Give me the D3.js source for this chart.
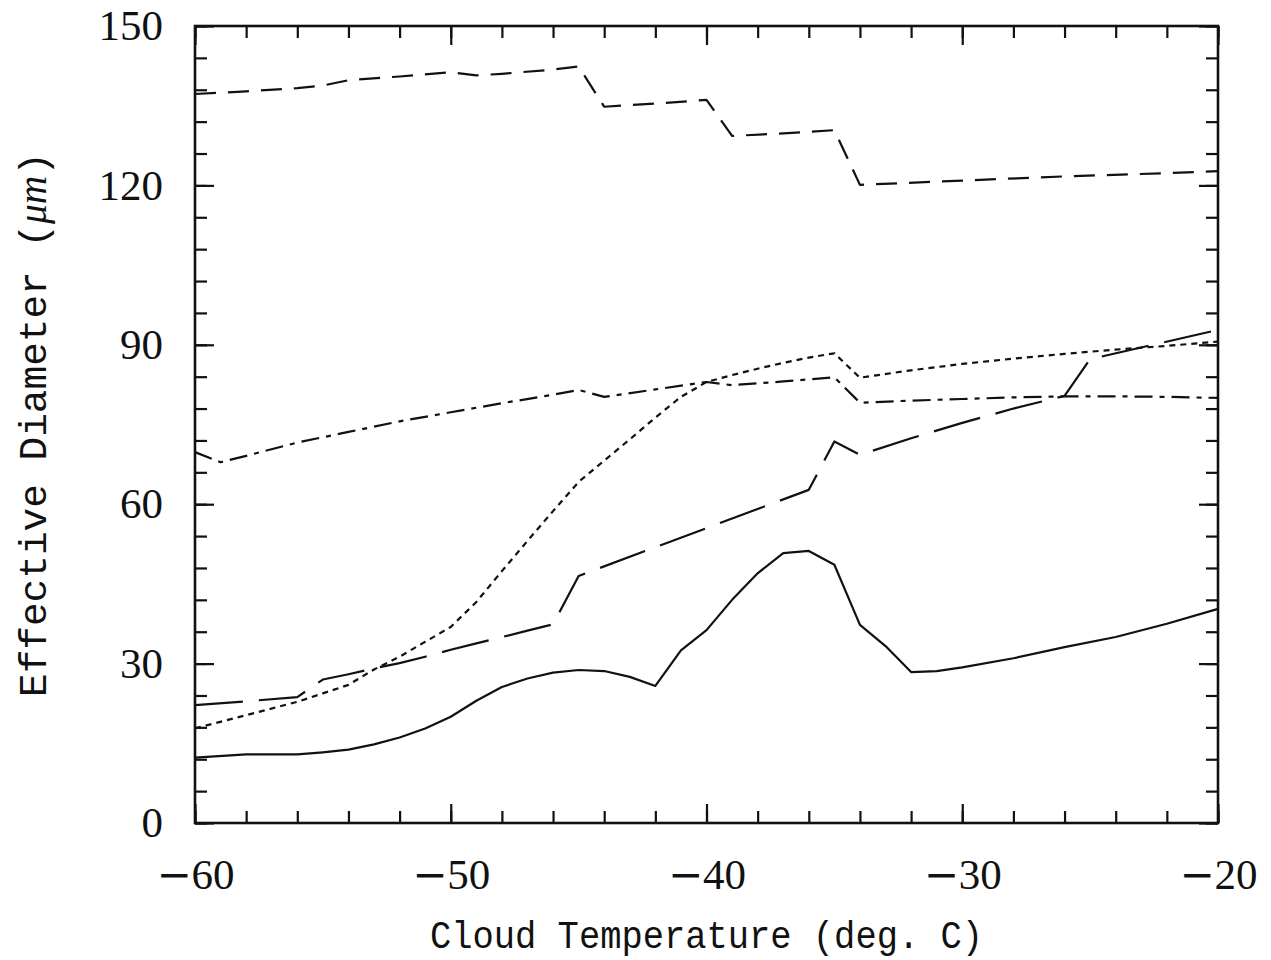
<!DOCTYPE html>
<html>
<head>
<meta charset="utf-8">
<script src="https://cdn.jsdelivr.net/npm/d3@7"></script>
<style>
  html, body { margin: 0; padding: 0; background: #fff; }
  svg { display: block; }
</style>
</head>
<body>
<svg id="chart" width="1271" height="960"></svg>
<script>
// Effective ice-crystal diameter versus cloud temperature, five size-distribution schemes

const solidT = [-60,-58,-56,-55,-54,-53,-52,-51,-50,-49,-48,-47,-46,-45,-44,-43,-42,-41,-40,-39,-38,-37,-36,-35,-34,-33,-32,-31,-30,-28,-26,-24,-22,-20];
const solidD = [12.3,12.9,12.9,13.3,13.8,14.8,16.1,17.8,20.0,23.0,25.6,27.2,28.3,28.8,28.6,27.5,25.8,32.5,36.3,42.0,47.0,50.8,51.2,48.6,37.3,33.3,28.4,28.6,29.3,31.0,33.1,35.0,37.5,40.3];

const longDashT = [-60,-58,-56,-55,-54,-53,-52,-51,-50,-49,-48,-47,-46,-45,-36,-35,-34,-32,-30,-28,-26,-25,-20];
const longDashD = [22.2,22.9,23.7,27.0,28.0,29.1,30.1,31.3,32.6,33.8,35.0,36.2,37.4,46.5,62.7,71.8,69.3,72.4,75.3,78.0,80.4,87.3,92.8];

const dottedT = [-60,-58,-56,-55,-54,-53,-52,-51,-50,-49,-48,-47,-46,-45,-44,-43,-42,-41,-40,-39,-38,-37,-36,-35,-34,-32,-30,-28,-26,-24,-22,-20];
const dottedD = [17.8,20.3,22.8,24.4,26.0,28.9,31.3,34.1,36.9,41.6,47.4,53.1,58.7,64.2,68.2,72.2,76.3,80.2,83.0,84.3,85.5,86.6,87.6,88.4,83.8,85.2,86.4,87.4,88.3,89.1,89.8,90.6];

const dashDotT = [-60,-59,-58,-56,-54,-52,-50,-48,-46,-45,-44,-42,-40,-39,-37,-35,-34,-32,-30,-28,-26,-24,-22,-20];
const dashDotD = [69.8,67.9,69.1,71.6,73.6,75.6,77.3,79.0,80.6,81.5,80.2,81.6,83.0,82.4,83.1,83.9,79.1,79.5,79.8,80.1,80.3,80.3,80.2,80.0];

const dashedT = [-60,-58,-56,-55,-54,-52,-50,-49,-48,-46,-45,-44,-42,-40,-39,-37,-35,-34,-30,-26,-22,-20];
const dashedD = [137.2,137.7,138.3,138.8,139.8,140.5,141.3,140.7,141.0,141.8,142.4,134.8,135.4,136.1,129.3,129.8,130.4,120.1,120.9,121.7,122.3,122.7];

const xMajorTicks = [-60,-50,-40,-30,-20];
const yMajorTicks = [0,30,60,90,120,150];
const xTitle = "Cloud Temperature (deg. C)";
const yTitleMain = "Effective Diameter (";
const yTitleUnit = "\u03bcm";
const yTitleEnd = ")";

const svg = d3.select("#chart");
const frame = { left: 195, right: 1218, top: 26, bottom: 823 };

const x = d3.scaleLinear().domain([-60, -20]).range([frame.left, frame.right]);
const y = d3.scaleLinear().domain([0, 150]).range([frame.bottom, frame.top]);

const xMinor = d3.range(-60, -19.9, 2);
const yMinor = d3.range(0, 150.1, 6);

const tickFont = "'Liberation Serif', 'Times New Roman', serif";
const minusFont = "'DejaVu Serif', serif";
const majorLen = 19, minorLen = 12;

function styleAxis(g) {
  g.select(".domain").remove();
  g.selectAll(".tick line").attr("stroke", "#111").attr("stroke-width", 2.2);
  g.selectAll(".tick text")
    .attr("fill", "#111").attr("font-family", tickFont).attr("font-size", 43)
    .each(function () {
      // wide minus sign in front of negative labels
      const el = d3.select(this);
      const s = el.text();
      if (s.startsWith("\u2212")) {
        el.text(null);
        el.append("tspan").attr("font-family", minusFont).attr("font-size", 42).text("\u2212");
        el.append("tspan").text(s.slice(1));
      }
    });
}

const minusFmt = d => (d < 0 ? "\u2212" + Math.abs(d) : String(d));

// bottom axis
svg.append("g").attr("transform", `translate(0,${frame.bottom})`)
  .call(d3.axisBottom(x).tickValues(xMinor).tickSizeInner(-minorLen).tickSizeOuter(0).tickFormat(""))
  .call(styleAxis);
svg.append("g").attr("transform", `translate(0,${frame.bottom})`)
  .call(d3.axisBottom(x).tickValues(xMajorTicks).tickSizeInner(-majorLen).tickSizeOuter(0).tickPadding(35).tickFormat(minusFmt))
  .call(styleAxis);

// top axis
svg.append("g").attr("transform", `translate(0,${frame.top})`)
  .call(d3.axisTop(x).tickValues(xMinor).tickSizeInner(-minorLen).tickSizeOuter(0).tickFormat(""))
  .call(styleAxis);
svg.append("g").attr("transform", `translate(0,${frame.top})`)
  .call(d3.axisTop(x).tickValues(xMajorTicks).tickSizeInner(-majorLen).tickSizeOuter(0).tickFormat(""))
  .call(styleAxis);

// left axis
svg.append("g").attr("transform", `translate(${frame.left},0)`)
  .call(d3.axisLeft(y).tickValues(yMinor).tickSizeInner(-minorLen).tickSizeOuter(0).tickFormat(""))
  .call(styleAxis);
svg.append("g").attr("transform", `translate(${frame.left},0)`)
  .call(d3.axisLeft(y).tickValues(yMajorTicks).tickSizeInner(-majorLen).tickSizeOuter(0).tickPadding(32).tickFormat(minusFmt))
  .call(styleAxis);

// right axis
svg.append("g").attr("transform", `translate(${frame.right},0)`)
  .call(d3.axisRight(y).tickValues(yMinor).tickSizeInner(-minorLen).tickSizeOuter(0).tickFormat(""))
  .call(styleAxis);
svg.append("g").attr("transform", `translate(${frame.right},0)`)
  .call(d3.axisRight(y).tickValues(yMajorTicks).tickSizeInner(-majorLen).tickSizeOuter(0).tickFormat(""))
  .call(styleAxis);

// plot frame
svg.append("rect")
  .attr("x", frame.left).attr("y", frame.top)
  .attr("width", frame.right - frame.left).attr("height", frame.bottom - frame.top)
  .attr("fill", "none").attr("stroke", "#111").attr("stroke-width", 2.6);

// curves
const line = d3.line().x(d => x(d[0])).y(d => y(d[1]));
const series = [
  { t: solidT,    d: solidD,    dash: null },
  { t: longDashT, d: longDashD, dash: "48,16" },
  { t: dottedT,   d: dottedD,   dash: "6,5" },
  { t: dashDotT,  d: dashDotD,  dash: "18,7,5,7" },
  { t: dashedT,   d: dashedD,   dash: "21,12" }
];
svg.append("g").selectAll("path")
  .data(series)
  .join("path")
  .attr("d", s => line(s.t.map((t, i) => [t, s.d[i]])))
  .attr("fill", "none")
  .attr("stroke", "#111")
  .attr("stroke-width", 2.2)
  .attr("stroke-linejoin", "round")
  .attr("stroke-dasharray", s => s.dash);

// axis titles
const titleFont = "'Liberation Mono', 'Courier New', monospace";
svg.append("text")
  .attr("x", (frame.left + frame.right) / 2).attr("y", 948)
  .attr("text-anchor", "middle")
  .attr("font-family", titleFont).attr("font-size", 39)
  .attr("textLength", 553).attr("lengthAdjust", "spacingAndGlyphs")
  .attr("fill", "#111")
  .text(xTitle);

const yt = svg.append("text")
  .attr("transform", `translate(46,${(frame.top + frame.bottom) / 2}) rotate(-90)`)
  .attr("text-anchor", "middle")
  .attr("font-family", titleFont).attr("font-size", 39)
  .attr("textLength", 545).attr("lengthAdjust", "spacingAndGlyphs")
  .attr("fill", "#111");
yt.append("tspan").text(yTitleMain);
yt.append("tspan").attr("font-family", tickFont).attr("font-style", "italic").text(yTitleUnit);
yt.append("tspan").text(yTitleEnd);
</script>
</body>
</html>
